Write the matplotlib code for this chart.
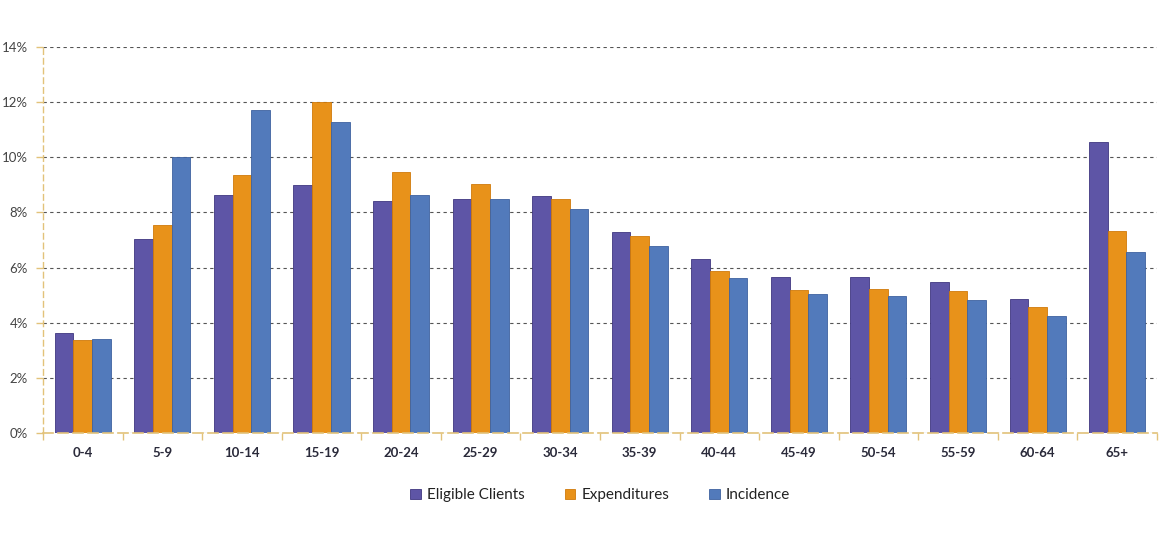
import matplotlib
matplotlib.use("Agg")
import matplotlib.pyplot as plt
import numpy as np
from matplotlib.ticker import FuncFormatter, MultipleLocator

categories = ["0-4", "5-9", "10-14", "15-19", "20-24", "25-29", "30-34",
              "35-39", "40-44", "45-49", "50-54", "55-59", "60-64", "65+"]
eligible = [3.62, 7.05, 8.62, 9.00, 8.41, 8.50, 8.59, 7.28, 6.31, 5.65, 5.66, 5.47, 4.88, 10.55]
expenditures = [3.37, 7.53, 9.34, 12.00, 9.46, 9.01, 8.47, 7.14, 5.87, 5.19, 5.23, 5.17, 4.56, 7.33]
incidence = [3.41, 10.00, 11.72, 11.29, 8.63, 8.47, 8.11, 6.77, 5.64, 5.03, 4.97, 4.82, 4.24, 6.56]
series_names = ["Eligible Clients", "Expenditures", "Incidence"]
colors = ["#5E55A6", "#E8921A", "#527ABB"]
edges = ["#3F3780", "#D07A0A", "#3E62A0"]

plt.rcParams['font.family'] = ['Lato', 'DejaVu Sans']

fig = plt.figure(figsize=(11.7, 5.36), dpi=100)
ax = fig.add_axes([0.0368, 0.1916, 0.952, 0.7213])

x = np.arange(len(categories))
w = 0.235
for i, (vals, name) in enumerate(zip([eligible, expenditures, incidence], series_names)):
    ax.bar(x + (i - 1) * w, vals, width=w, color=colors[i], edgecolor=edges[i],
           linewidth=0.6, label=name, zorder=3)

ax.set_xlim(-0.5, len(categories) - 0.5)
ax.set_ylim(0, 14)
ax.yaxis.set_major_locator(MultipleLocator(2))
ax.yaxis.set_major_formatter(FuncFormatter(lambda v, p: f"{int(v)}%"))
ax.grid(axis='y', color='#555555', linestyle=(0, (3, 3)), linewidth=0.8, zorder=0)
ax.grid(axis='x', visible=False)

for s in ['top', 'right']:
    ax.spines[s].set_visible(False)
ax.spines['left'].set_color('#E2C27A')
ax.spines['left'].set_linestyle((0, (4, 3)))
ax.spines['left'].set_linewidth(1.0)
ax.spines['bottom'].set_color('#E2C27A')
ax.spines['bottom'].set_linestyle((0, (6, 3)))
ax.spines['bottom'].set_linewidth(1.2)
ax.spines['bottom'].set_zorder(4)

ax.set_xticks(x)
ax.set_xticklabels(categories, fontsize=9.5, fontweight='bold', color='#2A2A3A')
ax.tick_params(axis='x', which='major', length=0, pad=10)
ax.set_xticks(np.arange(-0.5, len(categories) + 0.5, 1), minor=True)
ax.tick_params(axis='x', which='minor', length=5, color='#E2C27A', width=1)
ax.tick_params(axis='y', length=5, color='#E2C27A', width=1, labelsize=9.5,
               labelcolor='#444444', pad=6)

leg = fig.legend(loc='center', bbox_to_anchor=(0.513, 0.076), ncol=3, frameon=False,
                 fontsize=11, handlelength=0.7, handleheight=0.7, handletextpad=0.4,
                 columnspacing=2.6, labelcolor='#222222')

fig.savefig("out.png", dpi=100, facecolor='white')
